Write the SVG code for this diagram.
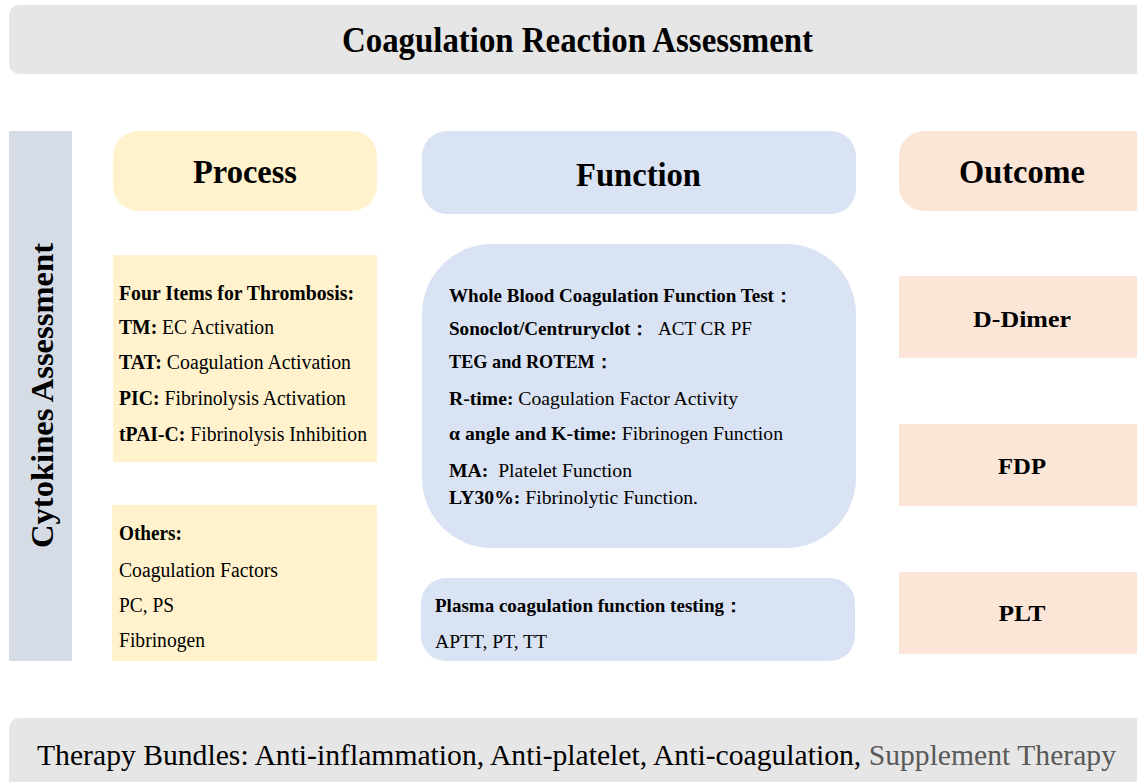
<svg xmlns="http://www.w3.org/2000/svg" width="1137" height="782" viewBox="0 0 1137 782">
<style>
text{font-family:"Liberation Serif","Times New Roman",serif;fill:#000}
.b{font-weight:bold}
.hd{font-size:33px;font-weight:bold;text-anchor:middle}
.ln{font-size:20px}
.fn{font-size:19px}
.oc{font-size:24px;font-weight:bold;text-anchor:middle}
.proc{fill:#fff2cc}
.func{fill:#dae3f3}
.out{fill:#fbe5d6}
.bar{fill:#e7e6e6}
</style>
<g id="title">
<rect class="bar" x="9" y="5" width="1140" height="69" rx="10"/>
<text class="b" x="342" y="52" font-size="36" textLength="471" lengthAdjust="spacingAndGlyphs">Coagulation Reaction Assessment</text>
</g>
<g id="cytokines">
<rect x="9" y="131" width="63" height="530" fill="#d6dce5"/>
<text class="b" transform="translate(53,548) rotate(-90)" font-size="32" textLength="305" lengthAdjust="spacingAndGlyphs">Cytokines Assessment</text>
</g>
<g id="process-header">
<rect class="proc" x="113" y="131" width="264" height="80" rx="25"/>
<text class="hd" x="245" y="183" textLength="104" lengthAdjust="spacingAndGlyphs">Process</text>
</g>
<g id="four-items">
<rect class="proc" x="113" y="255" width="264" height="207"/>
<text class="ln b" x="119" y="300" textLength="235" lengthAdjust="spacingAndGlyphs">Four Items for Thrombosis:</text>
<text class="ln" x="119" y="334" textLength="155" lengthAdjust="spacingAndGlyphs"><tspan class="b">TM:</tspan> EC Activation</text>
<text class="ln" x="119" y="369" textLength="232" lengthAdjust="spacingAndGlyphs"><tspan class="b">TAT:</tspan> Coagulation Activation</text>
<text class="ln" x="119" y="405" textLength="227" lengthAdjust="spacingAndGlyphs"><tspan class="b">PIC:</tspan> Fibrinolysis Activation</text>
<text class="ln" x="119" y="441" textLength="248" lengthAdjust="spacingAndGlyphs"><tspan class="b">tPAI-C:</tspan> Fibrinolysis Inhibition</text>
</g>
<g id="others">
<rect class="proc" x="112" y="505" width="265" height="156"/>
<text class="ln b" x="119" y="540" textLength="63" lengthAdjust="spacingAndGlyphs">Others:</text>
<text class="ln" x="119" y="577" textLength="159" lengthAdjust="spacingAndGlyphs">Coagulation Factors</text>
<text class="ln" x="119" y="612" textLength="55" lengthAdjust="spacingAndGlyphs">PC, PS</text>
<text class="ln" x="119" y="647" textLength="86" lengthAdjust="spacingAndGlyphs">Fibrinogen</text>
</g>
<g id="function-header">
<rect class="func" x="422" y="131" width="434" height="83" rx="25"/>
<text class="hd" x="638.5" y="186" font-size="34" textLength="125" lengthAdjust="spacingAndGlyphs">Function</text>
</g>
<g id="whole-blood">
<rect class="func" x="422" y="244" width="434" height="304" rx="70"/>
<text class="fn b" x="449" y="302" textLength="344" lengthAdjust="spacingAndGlyphs">Whole Blood Coagulation Function Test：</text>
<text class="fn" x="449" y="335" textLength="303" lengthAdjust="spacingAndGlyphs"><tspan class="b">Sonoclot/Centruryclot：</tspan>&#160; ACT CR PF</text>
<text class="fn b" x="449" y="368" textLength="164" lengthAdjust="spacingAndGlyphs">TEG and ROTEM：</text>
<text class="fn" x="449" y="405" textLength="289" lengthAdjust="spacingAndGlyphs"><tspan class="b">R-time:</tspan> Coagulation Factor Activity</text>
<text class="fn" x="449" y="440" textLength="334" lengthAdjust="spacingAndGlyphs"><tspan class="b">α angle and K-time:</tspan> Fibrinogen Function</text>
<text class="fn" x="449" y="477" textLength="183" lengthAdjust="spacingAndGlyphs"><tspan class="b">MA:</tspan>&#160; Platelet Function</text>
<text class="fn" x="449" y="504" textLength="249" lengthAdjust="spacingAndGlyphs"><tspan class="b">LY30%:</tspan> Fibrinolytic Function.</text>
</g>
<g id="plasma">
<rect class="func" x="421" y="578" width="434" height="83" rx="25"/>
<text class="fn b" x="435" y="612" textLength="308" lengthAdjust="spacingAndGlyphs">Plasma coagulation function testing：</text>
<text class="fn" x="435" y="648" textLength="112" lengthAdjust="spacingAndGlyphs">APTT, PT, TT</text>
</g>
<g id="outcome-header">
<rect class="out" x="899" y="131" width="260" height="80" rx="25"/>
<text class="hd" x="1022" y="183" textLength="126" lengthAdjust="spacingAndGlyphs">Outcome</text>
</g>
<g id="d-dimer">
<rect class="out" x="899" y="276" width="240" height="82"/>
<text class="oc" x="1022" y="327" textLength="98" lengthAdjust="spacingAndGlyphs">D-Dimer</text>
</g>
<g id="fdp">
<rect class="out" x="899" y="424" width="240" height="82"/>
<text class="oc" x="1022" y="474" textLength="48" lengthAdjust="spacingAndGlyphs">FDP</text>
</g>
<g id="plt">
<rect class="out" x="899" y="572" width="240" height="82"/>
<text class="oc" x="1022" y="621" textLength="47" lengthAdjust="spacingAndGlyphs">PLT</text>
</g>
<g id="therapy">
<rect class="bar" x="9" y="718" width="1140" height="80" rx="10"/>
<text x="37" y="765" font-size="30" textLength="1079" lengthAdjust="spacingAndGlyphs">Therapy Bundles: Anti-inflammation, Anti-platelet, Anti-coagulation, <tspan fill="#595959">Supplement Therapy</tspan></text>
</g>
<g id="connectors"></g>
</svg>
